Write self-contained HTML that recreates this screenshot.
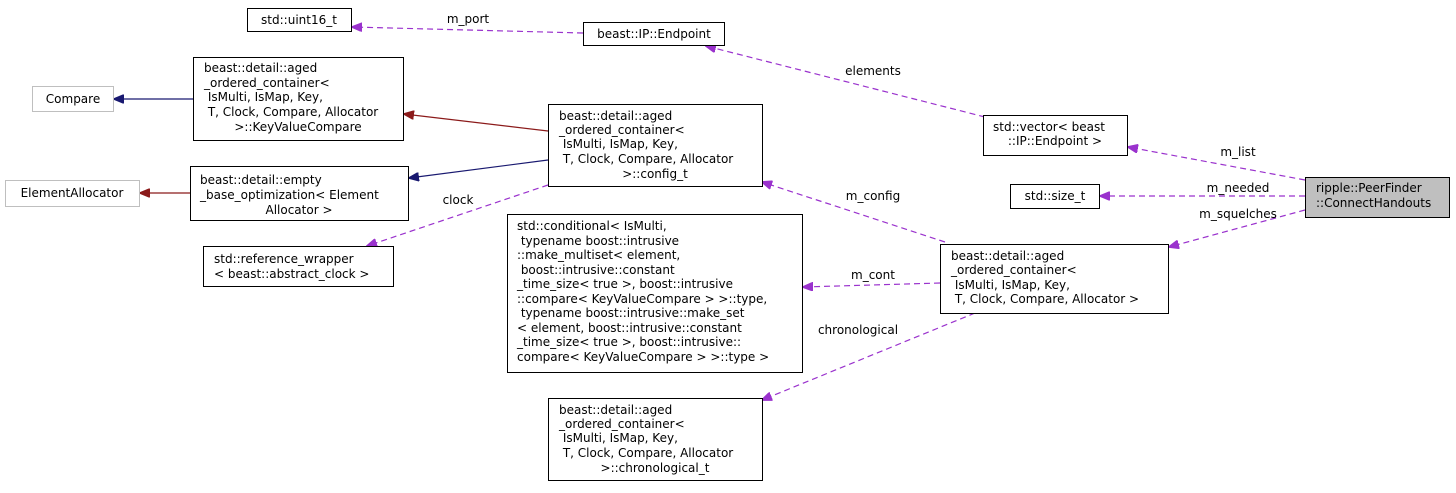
<!DOCTYPE html>
<html><head><meta charset="utf-8"><style>
html,body{margin:0;padding:0;background:#fff;}
svg text{font-family:"DejaVu Sans","Liberation Sans",sans-serif;font-size:12px;fill:#000;white-space:pre;}
</style></head><body>
<svg width="1456" height="488" viewBox="0 0 1456 488" xmlns="http://www.w3.org/2000/svg" xml:space="preserve">
<defs>
<marker id="ap" markerWidth="11" markerHeight="9" refX="10" refY="4.5" orient="auto" markerUnits="userSpaceOnUse"><path d="M0,0 L11,4.5 L0,9 z" fill="#9a32cd" stroke="#9a32cd"/></marker>
<marker id="ar" markerWidth="11" markerHeight="9" refX="10" refY="4.5" orient="auto" markerUnits="userSpaceOnUse"><path d="M0,0 L11,4.5 L0,9 z" fill="#8b1a1a" stroke="#8b1a1a"/></marker>
<marker id="ab" markerWidth="11" markerHeight="9" refX="10" refY="4.5" orient="auto" markerUnits="userSpaceOnUse"><path d="M0,0 L11,4.5 L0,9 z" fill="#191970" stroke="#191970"/></marker>
</defs>
<g fill="none" stroke-width="1.2">
<g stroke="#9a32cd" stroke-dasharray="6,4">
<line x1="583" y1="33" x2="352" y2="27" marker-end="url(#ap)"/>
<line x1="985" y1="117" x2="706" y2="46" marker-end="url(#ap)"/>
<line x1="1305" y1="180" x2="1128" y2="147" marker-end="url(#ap)"/>
<line x1="1305" y1="196" x2="1100" y2="196" marker-end="url(#ap)"/>
<line x1="1305" y1="210" x2="1169" y2="247" marker-end="url(#ap)"/>
<line x1="945" y1="242" x2="762" y2="182" marker-end="url(#ap)"/>
<line x1="940" y1="283" x2="803" y2="287" marker-end="url(#ap)"/>
<line x1="975" y1="313" x2="762" y2="400" marker-end="url(#ap)"/>
<line x1="548" y1="185" x2="367" y2="246" marker-end="url(#ap)"/>
</g>
<line x1="548" y1="131" x2="404" y2="114" stroke="#8b1a1a" marker-end="url(#ar)"/>
<line x1="190" y1="193" x2="140" y2="193" stroke="#8b1a1a" marker-end="url(#ar)"/>
<line x1="548" y1="160" x2="409" y2="178" stroke="#191970" marker-end="url(#ab)"/>
<line x1="193" y1="99" x2="114" y2="99" stroke="#191970" marker-end="url(#ab)"/>
</g>
<g fill="#fff" stroke="#000" stroke-width="1">
<rect x="247.5" y="8.5" width="104" height="23"/>
<rect x="583.5" y="22.5" width="141" height="23"/>
<rect x="193.5" y="57.5" width="210" height="83"/>
<rect x="32.5" y="86.5" width="81" height="25" stroke="#bfbfbf"/>
<rect x="5.5" y="180.5" width="134" height="26" stroke="#bfbfbf"/>
<rect x="190.5" y="166.5" width="218" height="54"/>
<rect x="203.5" y="246.5" width="190" height="40"/>
<rect x="548.5" y="104.5" width="214" height="82"/>
<rect x="507.5" y="214.5" width="295" height="158"/>
<rect x="548.5" y="398.5" width="214" height="82"/>
<rect x="983.5" y="115.5" width="144" height="40"/>
<rect x="1010.5" y="184.5" width="89" height="24"/>
<rect x="940.5" y="244.5" width="228" height="69"/>
<rect x="1305.5" y="177.5" width="144" height="40" fill="#bfbfbf"/>
</g>
<g>
<text x="299" y="24" text-anchor="middle">std::uint16_t</text>
<text x="654" y="38" text-anchor="middle">beast::IP::Endpoint</text>
<text x="204" y="72">beast::detail::aged</text>
<text x="204" y="87">_ordered_container&lt;</text>
<text x="204" y="101"> IsMulti, IsMap, Key,</text>
<text x="204" y="116"> T, Clock, Compare, Allocator</text>
<text x="298" y="131" text-anchor="middle">&gt;::KeyValueCompare</text>
<text x="73" y="103" text-anchor="middle">Compare</text>
<text x="72" y="197" text-anchor="middle">ElementAllocator</text>
<text x="200" y="184">beast::detail::empty</text>
<text x="200" y="199">_base_optimization&lt; Element</text>
<text x="299" y="214" text-anchor="middle">Allocator &gt;</text>
<text x="214" y="263">std::reference_wrapper</text>
<text x="214" y="278">&lt; beast::abstract_clock &gt;</text>
<text x="559" y="120">beast::detail::aged</text>
<text x="559" y="134">_ordered_container&lt;</text>
<text x="559" y="148"> IsMulti, IsMap, Key,</text>
<text x="559" y="163"> T, Clock, Compare, Allocator</text>
<text x="655" y="178" text-anchor="middle">&gt;::config_t</text>
<text x="517" y="230">std::conditional&lt; IsMulti,</text>
<text x="517" y="245"> typename boost::intrusive</text>
<text x="517" y="259">::make_multiset&lt; element,</text>
<text x="517" y="274"> boost::intrusive::constant</text>
<text x="517" y="288">_time_size&lt; true &gt;, boost::intrusive</text>
<text x="517" y="303">::compare&lt; KeyValueCompare &gt; &gt;::type,</text>
<text x="517" y="317"> typename boost::intrusive::make_set</text>
<text x="517" y="332">&lt; element, boost::intrusive::constant</text>
<text x="517" y="346">_time_size&lt; true &gt;, boost::intrusive::</text>
<text x="517" y="361">compare&lt; KeyValueCompare &gt; &gt;::type &gt;</text>
<text x="559" y="414">beast::detail::aged</text>
<text x="559" y="428">_ordered_container&lt;</text>
<text x="559" y="442"> IsMulti, IsMap, Key,</text>
<text x="559" y="457"> T, Clock, Compare, Allocator</text>
<text x="655" y="472" text-anchor="middle">&gt;::chronological_t</text>
<text x="993" y="131">std::vector&lt; beast</text>
<text x="1055" y="145" text-anchor="middle">::IP::Endpoint &gt;</text>
<text x="1055" y="200" text-anchor="middle">std::size_t</text>
<text x="951" y="260">beast::detail::aged</text>
<text x="951" y="274">_ordered_container&lt;</text>
<text x="951" y="289"> IsMulti, IsMap, Key,</text>
<text x="951" y="303"> T, Clock, Compare, Allocator &gt;</text>
<text x="1316" y="192">ripple::PeerFinder</text>
<text x="1316" y="207">::ConnectHandouts</text>
<text x="468" y="23" text-anchor="middle">m_port</text>
<text x="873" y="75" text-anchor="middle">elements</text>
<text x="1238" y="156" text-anchor="middle">m_list</text>
<text x="1238" y="192" text-anchor="middle">m_needed</text>
<text x="1238" y="218" text-anchor="middle">m_squelches</text>
<text x="873" y="200" text-anchor="middle">m_config</text>
<text x="873" y="279" text-anchor="middle">m_cont</text>
<text x="858" y="334" text-anchor="middle">chronological</text>
<text x="458" y="204" text-anchor="middle">clock</text>
</g>
</svg>
</body></html>
